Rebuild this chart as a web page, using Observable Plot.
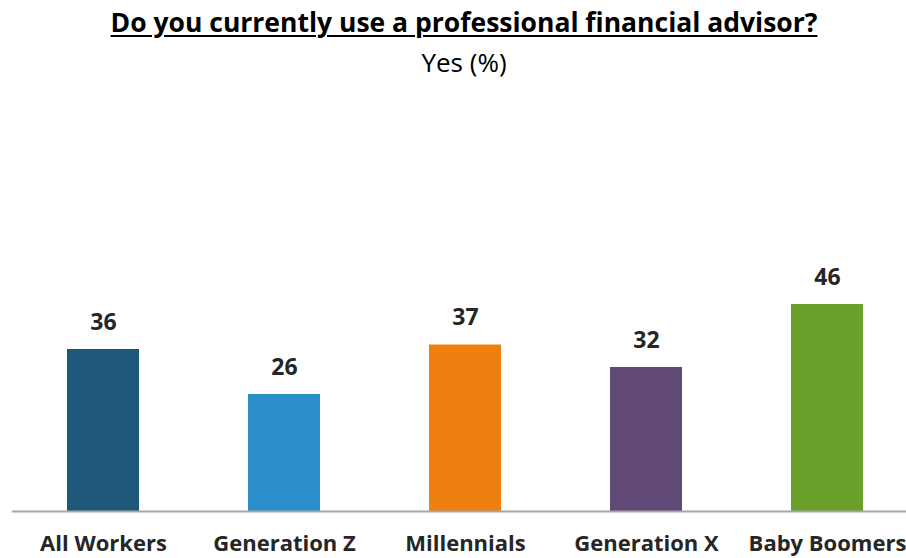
<!DOCTYPE html>
<html>
<head>
<meta charset="utf-8">
<script src="https://cdn.jsdelivr.net/npm/d3@7"></script>
<script src="https://cdn.jsdelivr.net/npm/@observablehq/plot@0.6"></script>
<style>
  html, body { margin: 0; padding: 0; background: #fff; }
  body { width: 906px; height: 558px; overflow: hidden; font-family: "Open Sans", sans-serif; color: #262626; }
  #title { height: 44px; line-height: 44px; padding-left: 22px; text-align: center; font-weight: bold; font-size: 26.5px; text-decoration: underline; text-decoration-thickness: 2px; text-underline-offset: 3px; color: #000; white-space: nowrap; }
  #subtitle { height: 36px; line-height: 36px; padding-left: 22px; text-align: center; font-size: 26px; color: #000; }
  #chart svg { display: block; overflow: visible; }
</style>
</head>
<body>
<div id="title">Do you currently use a professional financial advisor?</div>
<div id="subtitle">Yes (%)</div>
<div id="chart"></div>
<script>
const categories = ["All Workers", "Generation Z", "Millennials", "Generation X", "Baby Boomers"];
const values = [36, 26, 37, 32, 46];
const colors = ["#1D5779", "#2D8ECC", "#EF7F0F", "#604877", "#6BA02A"];

const data = categories.map((c, i) => ({cat: c, value: values[i]}));

const chart = Plot.plot({
  width: 906,
  height: 478,
  marginLeft: 12,
  marginRight: 0,
  marginTop: 0,
  marginBottom: 47,
  style: {fontFamily: "'Open Sans', sans-serif", color: "#262626", background: "#fff"},
  x: {domain: categories, range: [11.5, 919], paddingInner: 0.6, paddingOuter: 0.3, align: 0.5, axis: null},
  y: {domain: [0, 50], range: [431, 206], axis: null},
  color: {domain: categories, range: colors},
  marks: [
    Plot.barY(data, {x: "cat", y: "value", fill: "cat"}),
    Plot.ruleY([0], {stroke: "#A6A6A6", strokeWidth: 2}),
    Plot.text(data, {x: "cat", y: "value", text: d => String(d.value), dy: -27, fontSize: 23, fontWeight: "bold", fill: "#262626"}),
    Plot.text(data, {x: "cat", y: () => 0, text: "cat", dy: 32, fontSize: 22, fontWeight: "bold", fill: "#262626"})
  ]
});
document.getElementById("chart").appendChild(chart);
</script>
</body>
</html>
